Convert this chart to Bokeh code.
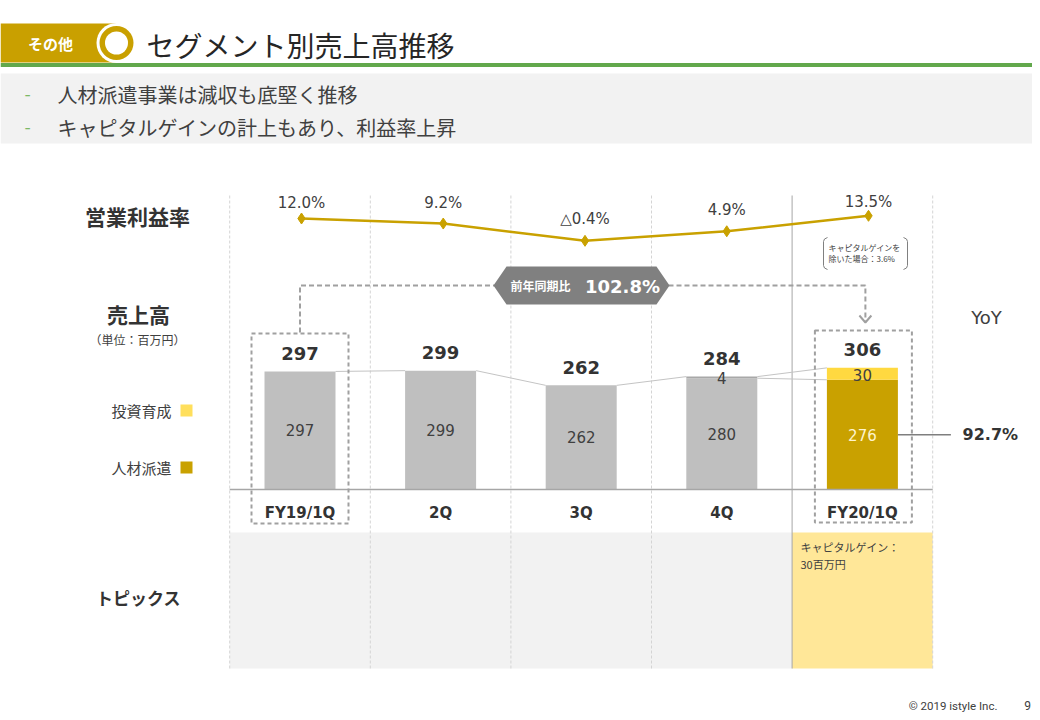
from bokeh.plotting import figure
from bokeh.models import Range1d
from bokeh.core.properties import value
from bokeh.embed import file_html
from bokeh.resources import INLINE

# ---------------- data ----------------
categories = ["FY19/1Q", "2Q", "3Q", "4Q", "FY20/1Q"]
staffing = [297, 299, 262, 280, 276]      # 人材派遣
investment = [0, 0, 0, 4, 30]             # 投資育成
totals = [297, 299, 262, 284, 306]
margin = [12.0, 9.2, -0.4, 4.9, 13.5]     # 営業利益率 (%)
margin_labels = ["12.0%", "9.2%", "△0.4%", "4.9%", "13.5%"]
yoy_label = "102.8%"
share_label = "92.7%"
bullets = ["人材派遣事業は減収も底堅く推移", "キャピタルゲインの計上もあり、利益率上昇"]
topic_lines = ["キャピタルゲイン：", "30百万円"]

# ---------------- styles / layout ----------------
JP = value("Noto Sans CJK JP")
NUM = value("DejaVu Sans")
GOLD = "#c9a100"
YEL = "#ffd940"
GREY_BAR = "#bfbfbf"
TXT = "#404040"
DARK = "#333333"

staff_colors = [GREY_BAR] * 4 + [GOLD]
inv_colors = ["#a8a8a8"] * 4 + [YEL]
inner_colors = [TXT] * 4 + ["#fff4cc"]
label_dy = [-16, -21, -22, -21, -14]

X0, DX = 299.5, 140.6          # bar centres (page px)
BASE, K = 489.0, 0.3975        # sales baseline and px per unit
LX0, LDX = 301.0, 141.75       # margin line x positions
MZ, MK = 239.6, 1.8            # margin zero line and px per %
BW = 0.505                     # bar width in category units
HW = BW / 2

W, H = 1032, 712
L, T, R, B = 0, 0, W, H

p = figure(width=W, height=H, x_range=Range1d(L, R), y_range=Range1d(B, T),
           output_backend="svg", toolbar_location=None, min_border=0,
           x_axis_location=None, y_axis_location=None)
p.grid.visible = False
p.outline_line_color = None
p.background_fill_color = "white"
p.border_fill_color = "white"

p.extra_x_ranges = {
    "bars": Range1d(-(X0 - L) / DX, (R - X0) / DX),
    "line": Range1d(-(LX0 - L) / LDX, (R - LX0) / LDX),
}
p.extra_y_ranges = {
    "sales": Range1d((BASE - B) / K, (BASE - T) / K),
    "margin": Range1d((MZ - B) / MK, (MZ - T) / MK),
}

def bx(i):
    return X0 + DX * i

idx = list(range(len(categories)))

# ---------------- header ----------------
p.quad(left=0, right=116, top=23, bottom=62, fill_color="#c9a000", line_color=None)
p.circle(x=[116], y=[42.5], radius=20, fill_color="white", line_color=None)
p.circle(x=[116], y=[42.5], radius=17, fill_color="#c9a000", line_color=None)
p.circle(x=[116], y=[42.5], radius=11.5, fill_color="white", line_color=None)
p.text(x=[50], y=[43], text=["その他"], text_font=JP, text_font_size="15px",
       text_font_style="bold", text_color="white", text_align="center", text_baseline="middle")
p.text(x=[146], y=[44], text=["セグメント別売上高推移"], text_font=JP, text_font_size="28px",
       text_color="#262626", text_align="left", text_baseline="middle")
p.quad(left=0, right=1040, top=62.5, bottom=66.5, fill_color="#62a84c", line_color=None)
p.quad(left=0, right=1040, top=73, bottom=143, fill_color="#f2f2f2", line_color=None)
p.text(x=[27, 27], y=[93, 126], text=["-", "-"], text_font=JP, text_font_size="18px",
       text_color="#7cb866", text_align="center", text_baseline="middle")
p.text(x=[57, 57], y=[94, 127], text=bullets, text_font=JP, text_font_size="20px",
       text_color=TXT, text_align="left", text_baseline="middle")

# ---------------- topics panel ----------------
p.quad(left=[-0.5], right=[3.5], top=[532], bottom=[668], fill_color="#f2f2f2",
       line_color=None, x_range_name="bars")
p.quad(left=[3.5], right=[4.5], top=[532], bottom=[668], fill_color="#ffe798",
       line_color=None, x_range_name="bars")
p.text(x=[800, 800], y=[546, 563], text=topic_lines, text_font=JP, text_font_size="11px",
       text_color=TXT, text_align="left", text_baseline="middle")

# ---------------- column separators ----------------
dashed_b = [-0.5, 0.5, 1.5, 2.5, 4.5]
p.segment(x0=dashed_b, y0=[195] * 5, x1=dashed_b, y1=[668] * 5, line_color="#d4d4d4",
          line_width=1, line_dash="3 2", x_range_name="bars")
p.segment(x0=[3.5], y0=[195], x1=[3.5], y1=[668], line_color="#a6a6a6", line_width=1,
          x_range_name="bars")

# ---------------- left labels ----------------
p.text(x=[137, 138], y=[215, 313], text=["営業利益率", "売上高"], text_font=JP,
       text_font_size="21px", text_font_style="bold", text_color=DARK,
       text_align="center", text_baseline="middle")
p.text(x=[137], y=[339], text=["（単位：百万円）"], text_font=JP, text_font_size="12px",
       text_color=TXT, text_align="center", text_baseline="middle")
p.text(x=[171, 171], y=[410, 467], text=["投資育成", "人材派遣"], text_font=JP,
       text_font_size="15px", text_color=TXT, text_align="right", text_baseline="middle")
p.quad(left=[180, 180], right=[192, 192], top=[404, 461], bottom=[416, 473],
       fill_color=["#ffdf5c", GOLD], line_color=None)
p.text(x=[138], y=[597], text=["トピックス"], text_font=JP, text_font_size="17px",
       text_font_style="bold", text_color=DARK, text_align="center", text_baseline="middle")

# ---------------- operating margin line ----------------
p.line(x=idx, y=margin, line_color=GOLD, line_width=2.5,
       x_range_name="line", y_range_name="margin")
p.scatter(x=idx, y=margin, marker="diamond", size=11, fill_color=GOLD, line_color=GOLD,
          x_range_name="line", y_range_name="margin")
p.text(x=idx, y=margin, text=margin_labels, y_offset=label_dy, text_font=NUM,
       text_font_size="15px", text_color=TXT, text_align="center", text_baseline="middle",
       x_range_name="line", y_range_name="margin")

# note bracket
p.line(x=[827, 824, 823, 823, 824, 827], y=[237, 238.5, 241, 265, 267.5, 269],
       line_color="#808080", line_width=1)
p.line(x=[903, 906, 907, 907, 906, 903], y=[237, 238.5, 241, 265, 267.5, 269],
       line_color="#808080", line_width=1)
p.text(x=[828, 828], y=[247, 258], text=["キャピタルゲインを", "除いた場合：3.6%"],
       text_font=JP, text_font_size="8px", text_color=TXT, text_align="left",
       text_baseline="middle")

# ---------------- YoY connector ----------------
p.line(x=[bx(0), bx(0), 494], y=[332, 285, 285], line_color="#a0a0a0", line_width=2,
       line_dash="5 3")
p.line(x=[668, bx(4) + 3, bx(4) + 3], y=[285, 285, 321], line_color="#a0a0a0",
       line_width=2, line_dash="5 3")
p.line(x=[bx(4) - 3, bx(4) + 3, bx(4) + 9], y=[315, 322, 315], line_color="#a0a0a0",
       line_width=2)
p.patch(x=[493, 506, 656, 669, 656, 506], y=[285, 266, 266, 285, 304, 304],
        fill_color="#808080", line_color=None)
p.text(x=[540], y=[285], text=["前年同期比"], text_font=JP, text_font_size="12px",
       text_font_style="bold", text_color="white", text_align="center", text_baseline="middle")
p.text(x=[622], y=[286], text=[yoy_label], text_font=NUM, text_font_size="18px",
       text_font_style="bold", text_color="white", text_align="center", text_baseline="middle")

# ---------------- bars ----------------
tops = [s + v for s, v in zip(staffing, investment)]
p.vbar(x=idx, width=BW, bottom=0, top=staffing, fill_color=staff_colors, line_color=None,
       x_range_name="bars", y_range_name="sales")
p.vbar(x=idx, width=BW, bottom=staffing, top=tops, fill_color=inv_colors, line_color=None,
       x_range_name="bars", y_range_name="sales")

# connectors between bars
cx0, cy0, cx1, cy1 = [], [], [], []
for i in range(len(idx) - 1):
    cx0.append(i + HW); cy0.append(totals[i]); cx1.append(i + 1 - HW); cy1.append(totals[i + 1])
    if investment[i] > 0 and investment[i + 1] > 0:
        cx0.append(i + HW); cy0.append(staffing[i]); cx1.append(i + 1 - HW); cy1.append(staffing[i + 1])
p.segment(x0=cx0, y0=cy0, x1=cx1, y1=cy1, line_color="#c4c4c4", line_width=1,
          x_range_name="bars", y_range_name="sales")

# baseline
p.segment(x0=[-0.5], y0=[0], x1=[4.5], y1=[0], line_color="#a6a6a6", line_width=1.5,
          x_range_name="bars", y_range_name="sales")

# value labels
p.text(x=idx, y=[s / 2 for s in staffing], text=[str(s) for s in staffing],
       text_font=NUM, text_font_size="15px", text_color=inner_colors,
       text_align="center", text_baseline="middle", x_range_name="bars", y_range_name="sales")
inv_i = [i for i in idx if investment[i] > 0]
p.text(x=inv_i, y=[staffing[i] + investment[i] / 2 for i in inv_i],
       text=[str(investment[i]) for i in inv_i], y_offset=1, text_font=NUM,
       text_font_size="15px", text_color=TXT, text_align="center", text_baseline="middle",
       x_range_name="bars", y_range_name="sales")
p.text(x=idx, y=totals, text=[str(t) for t in totals], y_offset=-18, text_font=NUM,
       text_font_size="18px", text_font_style="bold", text_color=DARK,
       text_align="center", text_baseline="middle", x_range_name="bars", y_range_name="sales")
p.text(x=idx, y=[512] * len(idx), text=categories, text_font=NUM, text_font_size="15px",
       text_font_style="bold", text_color=DARK, text_align="center", text_baseline="middle",
       x_range_name="bars")

# dashed highlight boxes
p.quad(left=[bx(0) - 48.5, bx(4) - 47.5], right=[bx(0) + 48.5, bx(4) + 49.5],
       top=[333, 330], bottom=[523, 522], fill_color=None, line_color="#a0a0a0",
       line_width=2, line_dash="4 3")

# share of FY20/1Q staffing
p.segment(x0=[4 + HW], y0=[staffing[4] / 2], x1=[4 + HW + 0.377], y1=[staffing[4] / 2],
          line_color="#7f7f7f", line_width=1.5, x_range_name="bars", y_range_name="sales")
p.text(x=[4.91], y=[staffing[4] / 2], text=[share_label], text_font=NUM,
       text_font_size="16px", text_font_style="bold", text_color=DARK, text_align="center",
       text_baseline="middle", x_range_name="bars", y_range_name="sales")
p.text(x=[986], y=[317], text=["YoY"], text_font=NUM, text_font_size="18px",
       text_color=TXT, text_align="center", text_baseline="middle")

# ---------------- footer ----------------
p.text(x=[997], y=[705], text=["© 2019 istyle Inc."], text_font=value("Roboto"),
       text_font_size="11.5px", text_color=TXT, text_align="right", text_baseline="middle")
p.text(x=[1027], y=[705], text=["9"], text_font=value("Roboto"), text_font_size="12px",
       text_color=TXT, text_align="center", text_baseline="middle")

open("out.html", "w").write(file_html(p, INLINE))
